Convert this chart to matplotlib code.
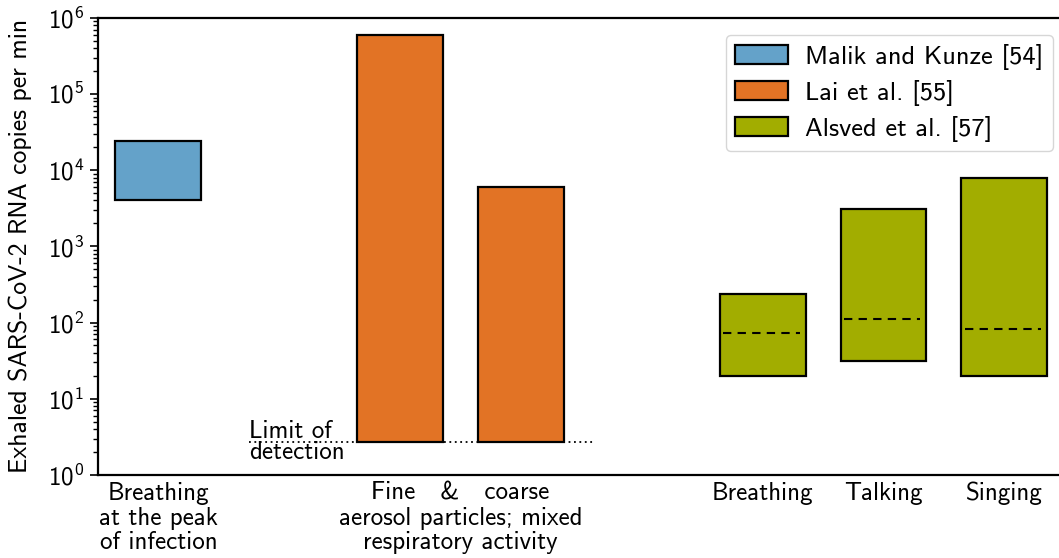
import matplotlib
matplotlib.use("Agg")
import matplotlib.pyplot as plt
import numpy as np

plt.rcParams["font.family"] = ["cmss10", "DejaVu Sans"]
plt.rcParams["mathtext.fontset"] = "cm"
plt.rcParams["axes.formatter.use_mathtext"] = True
plt.rcParams["font.size"] = 18

# floating bars: (position, low, high, median or None, study)
positions = [0, 2, 3, 5, 6, 7]
lows = [4.1e3, 2.7, 2.7, 20, 31, 20]
highs = [2.4e4, 5.9e5, 6.1e3, 240, 3.1e3, 7.9e3]
medians = [None, None, None, 72, 112, 82]
studies = ["Malik and Kunze [54]", "Lai et al. [55]", "Lai et al. [55]",
           "Alsved et al. [57]", "Alsved et al. [57]", "Alsved et al. [57]"]

study_colors = {
    "Malik and Kunze [54]": "#64a2c9",
    "Lai et al. [55]": "#e27325",
    "Alsved et al. [57]": "#a2ad00",
}

tick_pos = [0, 2.5, 5, 6, 7]
tick_labels = ["Breathing\nat the peak\nof infection",
               "Fine   &   coarse\naerosol particles; mixed\nrespiratory activity",
               "Breathing", "Talking", "Singing"]

detection_limit = 2.7

fig = plt.figure(figsize=(10.59, 5.58), dpi=100)
ax = fig.add_axes([0.0925, 0.149, 0.913, 0.819])

width = 0.71
seen = set()
for p, lo, hi, med, st in zip(positions, lows, highs, medians, studies):
    ax.bar(p, hi - lo, width, bottom=lo, color=study_colors[st],
           edgecolor="black", linewidth=1.6, zorder=3,
           label=st if st not in seen else None)
    seen.add(st)
    if med is not None:
        ax.hlines(med, p - width / 2 + 0.03, p + width / 2 - 0.05,
                  colors="black", linestyles=(0, (4, 3)), linewidth=1.5, zorder=4)

# detection limit
ax.hlines(detection_limit, 0.75, 3.6, colors="black", linestyles=(0, (1, 2)),
          linewidth=1.3, zorder=2)
ax.text(0.75, detection_limit, "Limit of\ndetection", ha="left", va="center",
        linespacing=0.9)

ax.set_yscale("log")
ax.set_ylim(1, 1e6)
ax.set_xlim(-0.5, 7.5)
ax.set_xticks(tick_pos)
ax.set_xticklabels(tick_labels, linespacing=1.1)
ax.tick_params(axis="x", length=0, pad=5)
ax.tick_params(axis="y", which="major", length=6, width=1.2, pad=4)
ax.tick_params(axis="y", which="minor", length=3.5, width=1.0)
ax.set_ylabel("Exhaled SARS-CoV-2 RNA copies per min", fontsize=18.5)
ax.yaxis.set_label_coords(-0.068, 0.5)

ax.spines["right"].set_visible(False)
for s in ["left", "bottom", "top"]:
    ax.spines[s].set_linewidth(1.6)

ax.legend(loc="upper right", bbox_to_anchor=(0.993, 0.975), fontsize=19,
          handlelength=2.0, handleheight=0.7, borderpad=0.35,
          labelspacing=0.38, handletextpad=0.65, borderaxespad=0.2)

plt.savefig("out.png", dpi=100)
